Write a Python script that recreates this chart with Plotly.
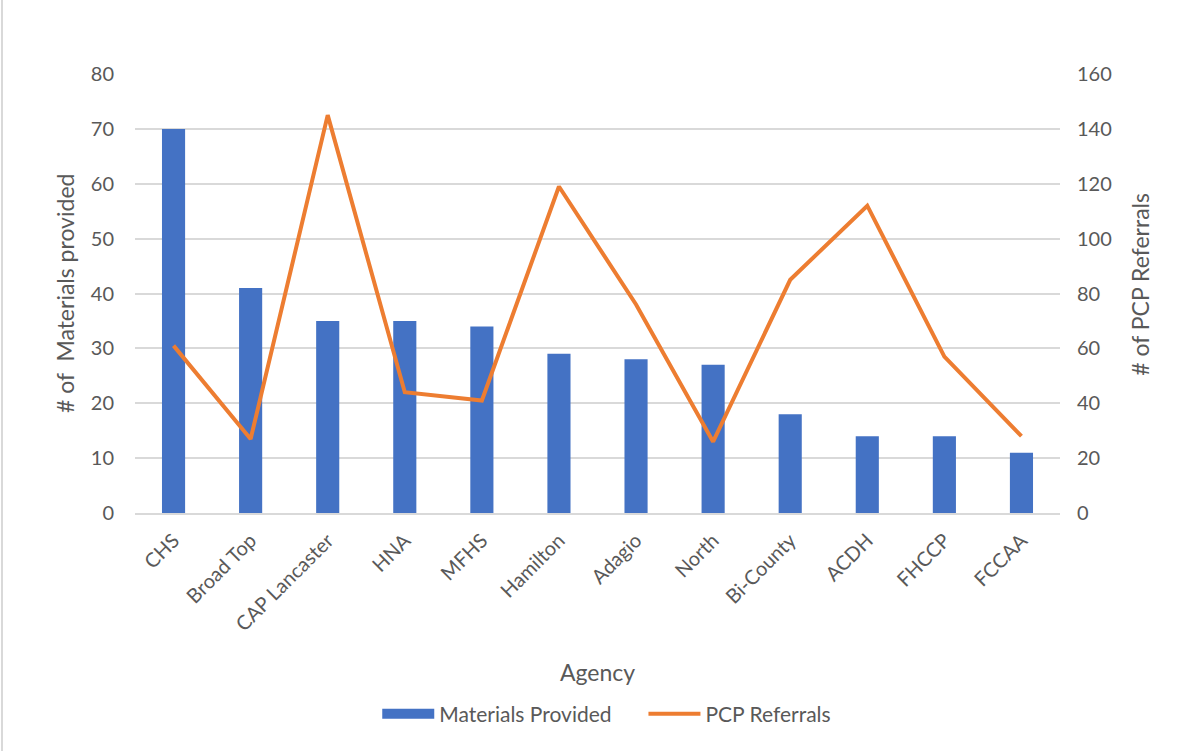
import plotly.graph_objects as go

agencies = ["CHS", "Broad Top", "CAP Lancaster", "HNA", "MFHS", "Hamilton", "Adagio",
            "North", "Bi-County", "ACDH", "FHCCP", "FCCAA"]
materials = [70, 41, 35, 35, 34, 29, 28, 27, 18, 14, 14, 11]
referrals = [61, 27, 145, 44, 41, 119, 76, 26, 85, 112, 57, 28]

FONT = "Lato, Open Sans, sans-serif"
TXT = "#595959"
BLUE = "#4472C4"
ORANGE = "#ED7D31"
PAD = "\u00a0" * 5

fig = go.Figure()
fig.add_trace(go.Bar(x=agencies, y=materials, name="Materials Provided", showlegend=False,
                     legendgroup="m",
                     marker=dict(color=BLUE, line=dict(width=0)), yaxis="y"))
# legend entry drawn as a wide block like the reference
fig.add_trace(go.Scatter(x=[None], y=[None], name="Materials Provided" + PAD, mode="lines",
                         legendgroup="m", line=dict(color=BLUE, width=14), yaxis="y"))
fig.add_trace(go.Scatter(x=agencies, y=referrals, name="PCP Referrals", mode="lines",
                         line=dict(color=ORANGE, width=4), yaxis="y2"))

fig.update_layout(
    width=1199, height=751,
    margin=dict(l=135, r=139, t=74, b=238),
    paper_bgcolor="white", plot_bgcolor="white",
    font=dict(family=FONT, color=TXT, size=20),
    bargap=0.7,
    showlegend=True,
    legend=dict(orientation="h", x=0.51, xanchor="center", y=-0.458, yanchor="middle",
                font=dict(size=21, color=TXT), traceorder="normal", itemwidth=52),
    xaxis=dict(tickangle=-45, showgrid=False, showline=True, linecolor="#d9d9d9",
               linewidth=2, ticks="outside", tickcolor="rgba(0,0,0,0)", ticklen=6,
               tickfont=dict(size=20, color=TXT)),
    yaxis=dict(range=[0, 80], dtick=10, showgrid=True, gridcolor="#d9d9d9", gridwidth=2,
               zeroline=False, showline=False, ticks="", ticklabelstandoff=20,
               tickfont=dict(size=20, color=TXT)),
    yaxis2=dict(range=[0, 160], dtick=20, overlaying="y", side="right", showgrid=False,
                zeroline=False, showline=False, ticklabelstandoff=16,
                tickfont=dict(size=20, color=TXT)),
    annotations=[
        dict(text="# of  Materials provided", x=-0.0757, y=0.501, xref="paper", yref="paper",
             xanchor="center", yanchor="middle",
             textangle=-90, showarrow=False, font=dict(size=23, color=TXT)),
        dict(text="# of PCP Referrals", x=1.0865, y=0.52, xref="paper", yref="paper",
             xanchor="center", yanchor="middle",
             textangle=-90, showarrow=False, font=dict(size=23, color=TXT)),
        dict(text="Agency", x=0.4995, y=-0.362, xref="paper", yref="paper",
             xanchor="center", yanchor="middle",
             showarrow=False, font=dict(size=23, color=TXT)),
    ],
    shapes=[
        dict(type="line", xref="paper", yref="paper", x0=-0.1438, x1=-0.1438,
             y0=-0.55, y1=1.2, line=dict(color="#d9d9d9", width=2)),
    ],
)

fig.write_html("out.html")
